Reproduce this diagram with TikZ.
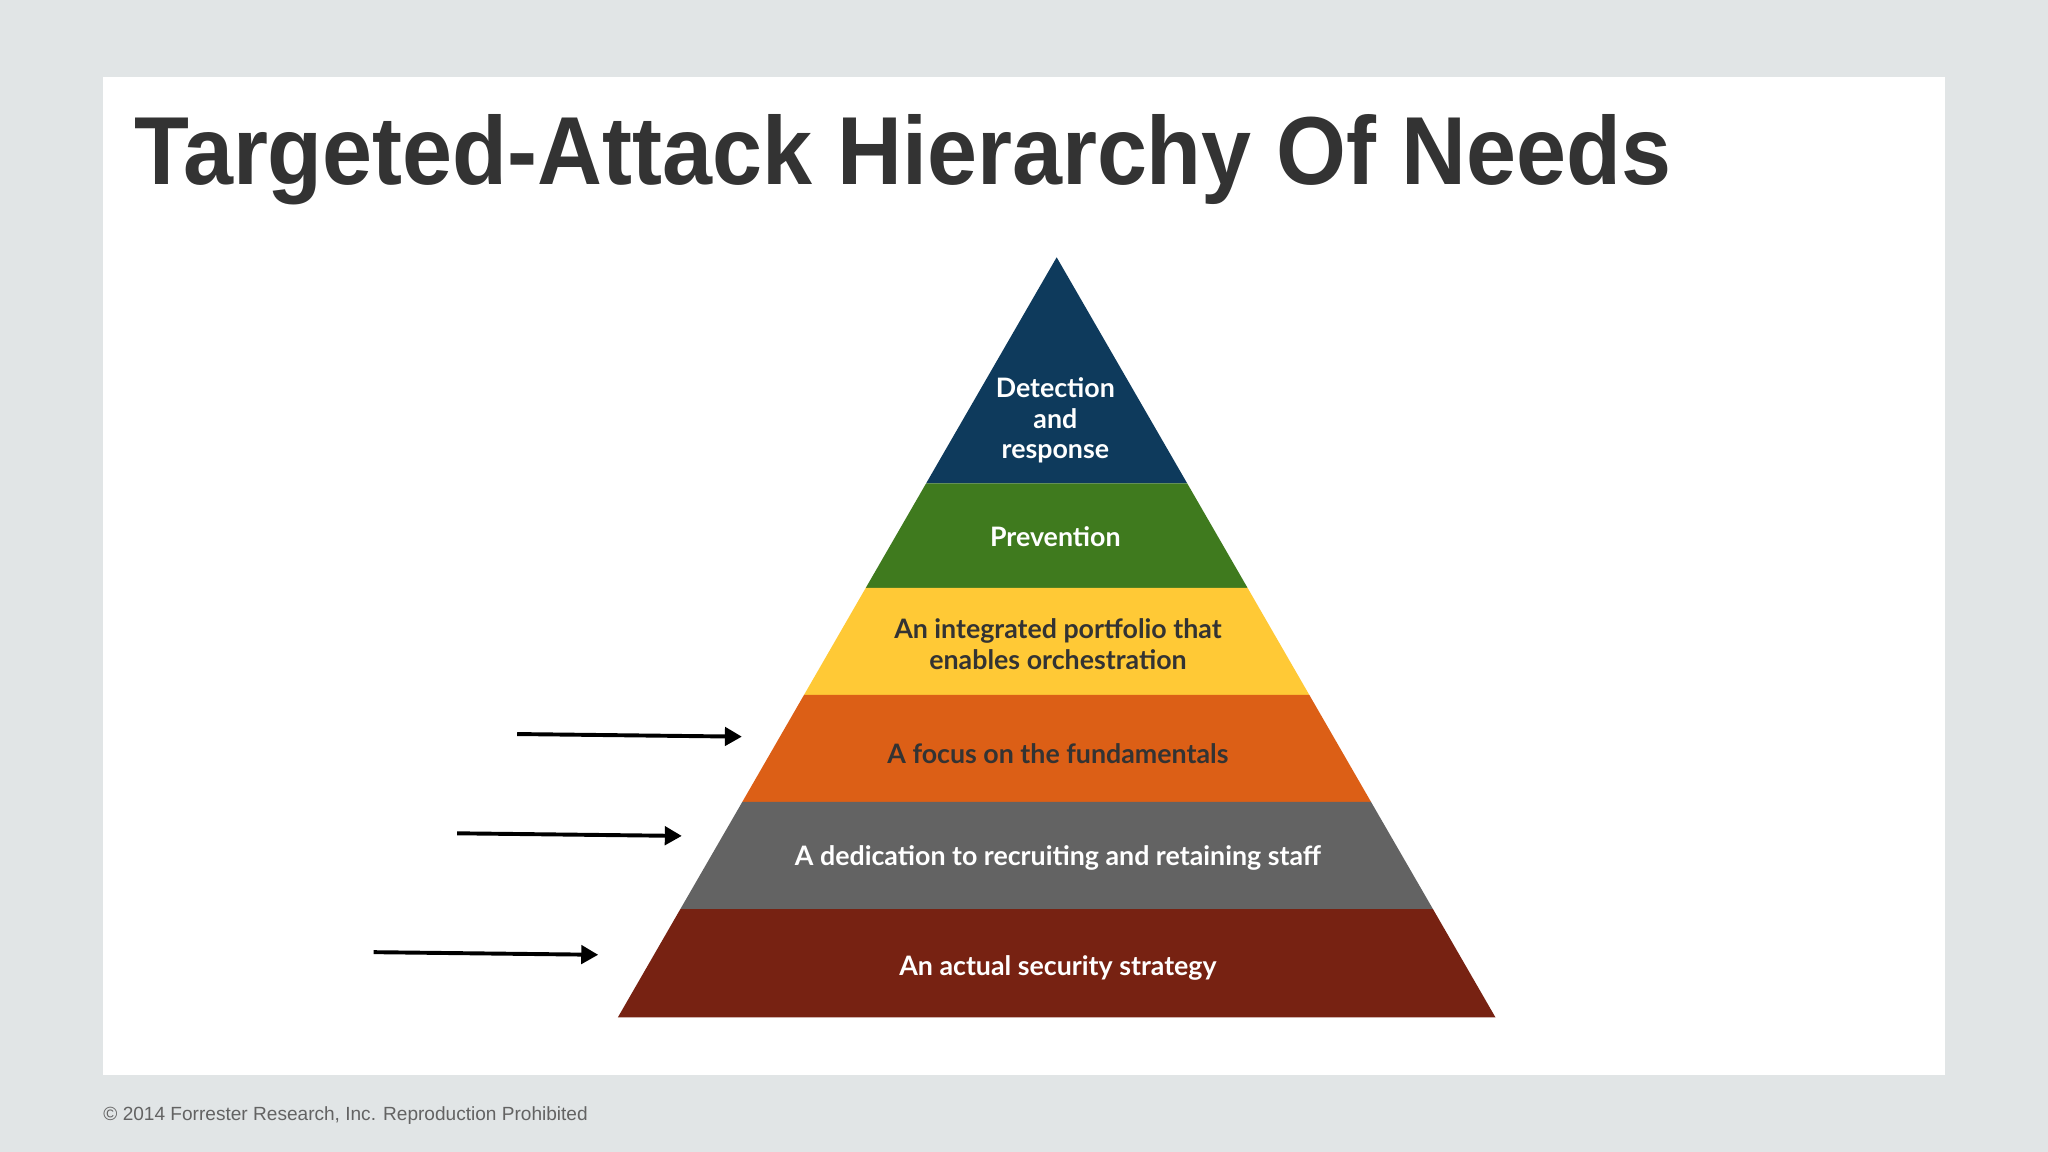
\documentclass[tikz,border=0pt]{standalone}
\usepackage{fontspec}
\setmainfont{Liberation Sans}
\newfontfamily\lato{Lato}
\usetikzlibrary{arrows.meta}
\definecolor{bg}{HTML}{E1E5E6}
\definecolor{navy}{HTML}{0E3A5C}
\definecolor{grn}{HTML}{3F7A1E}
\definecolor{yel}{HTML}{FFC936}
\definecolor{org}{HTML}{DC5F16}
\definecolor{gry}{HTML}{636363}
\definecolor{brn}{HTML}{772212}
\definecolor{ttl}{HTML}{333333}
\begin{document}
\begin{tikzpicture}[x=1pt,y=-1pt,
  lbl/.style={font=\lato\bfseries\fontsize{20.5}{23.5}\selectfont,align=center,inner sep=0},
  arr/.style={line width=3pt,-{Triangle[length=13pt,width=14pt]}}]
\fill[bg] (0,0) rectangle (1568,882);
\useasboundingbox (0,0) rectangle (1568,882);
\fill[white] (79,59) rectangle (1489,823);
\node[anchor=base west,inner sep=0,text=ttl,font=\bfseries\fontsize{74}{80}\selectfont,xscale=0.93,transform shape] (title) at (103,141) {Targeted-Attack Hierarchy Of Needs};
\fill[navy] (809,197) -- (908.9,370) -- (709.1,370) -- cycle;
\fill[grn] (709.1,370) -- (908.9,370) -- (955.1,450) -- (662.9,450) -- cycle;
\fill[yel] (662.9,450) -- (955.1,450) -- (1002.4,532) -- (615.6,532) -- cycle;
\fill[org] (615.6,532) -- (1002.4,532) -- (1049.7,614) -- (568.3,614) -- cycle;
\fill[gry] (568.3,614) -- (1049.7,614) -- (1097.1,696) -- (520.9,696) -- cycle;
\fill[brn] (520.9,696) -- (1097.1,696) -- (1145,779) -- (473,779) -- cycle;
\node[lbl,text=white] (l1) at (808,322) {Detection\\and\\response};
\node[lbl,text=white] (l2) at (808,411) {Prevention};
\node[lbl,text=ttl] (l3) at (810,493) {An integrated portfolio that\\enables orchestration};
\node[lbl,text=ttl] (l4) at (810,577) {A focus on the fundamentals};
\node[lbl,text=white] (l5) at (810,657) {A dedication to recruiting and retaining staff};
\node[lbl,text=white] (l6) at (810,741) {An actual security strategy};
\coordinate (a1s) at (396,562); \coordinate (a1e) at (568,564);
\coordinate (a2s) at (350,638); \coordinate (a2e) at (522,640);
\coordinate (a3s) at (286,729); \coordinate (a3e) at (458,731);
\draw[arr] (a1s) -- (a1e);
\draw[arr] (a2s) -- (a2e);
\draw[arr] (a3s) -- (a3e);
\node[anchor=base west,inner sep=0,text=gry,font=\fontsize{14.6}{16}\selectfont] (foot) at (79,858) {© 2014 Forrester Research, Inc. Reproduction Prohibited};
\end{tikzpicture}
\end{document}
